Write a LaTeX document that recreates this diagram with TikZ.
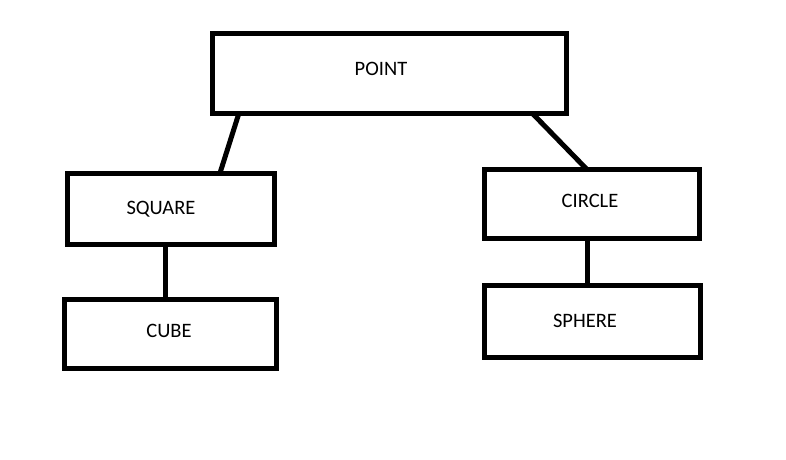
\documentclass[tikz,border=0pt]{standalone}
\usepackage{fontspec}
\setmainfont{Carlito}
\usetikzlibrary{calc}

\begin{document}
\begin{tikzpicture}[x=1pt, y=-1pt,
    box/.style={draw, rectangle, line width=5pt, inner sep=0pt, outer sep=0pt},
    word/.style={font=\fontsize{20.5}{24}\selectfont, inner sep=0pt},
    link/.style={line width=5pt}]

    \useasboundingbox (0, 0) rectangle (786, 459);

    \node[box, minimum width=353.5pt, minimum height=80pt] (point) at (389.25, 73) {};
    \node[word] (pointtxt) at (381, 69) {POINT};

    \node[box, minimum width=207.5pt, minimum height=71.5pt] (square) at (170.75, 208.75) {};
    \node[word] (squaretxt) at (161, 209) {SQUARE};

    \node[box, minimum width=212pt, minimum height=69pt] (cube) at (170.5, 333.5) {};
    \node[word] (cubetxt) at (169, 331) {CUBE};

    \node[box, minimum width=215.5pt, minimum height=68.5pt] (circle) at (591.75, 203.75) {};
    \node[word] (circletxt) at (590, 201) {CIRCLE};

    \node[box, minimum width=216.5pt, minimum height=71.5pt] (sphere) at (592.25, 321.25) {};
    \node[word] (spheretxt) at (585, 321) {SPHERE};

    \path[draw, link] ($(point.south west) + (26.5, 0)$) to ($(square.north west) + (153, 0)$);
    \path[draw, link] ($(point.south east) + (-34, 0)$) to ($(circle.north west) + (103, 0)$);

    \path[draw, link] ($(square.south west) + (98, 0)$) to ($(cube.north west) + (100.5, 0)$);
    \path[draw, link] ($(circle.south west) + (103, 0)$) to ($(sphere.north west) + (103, 0)$);

  \end{tikzpicture}
\end{document}
